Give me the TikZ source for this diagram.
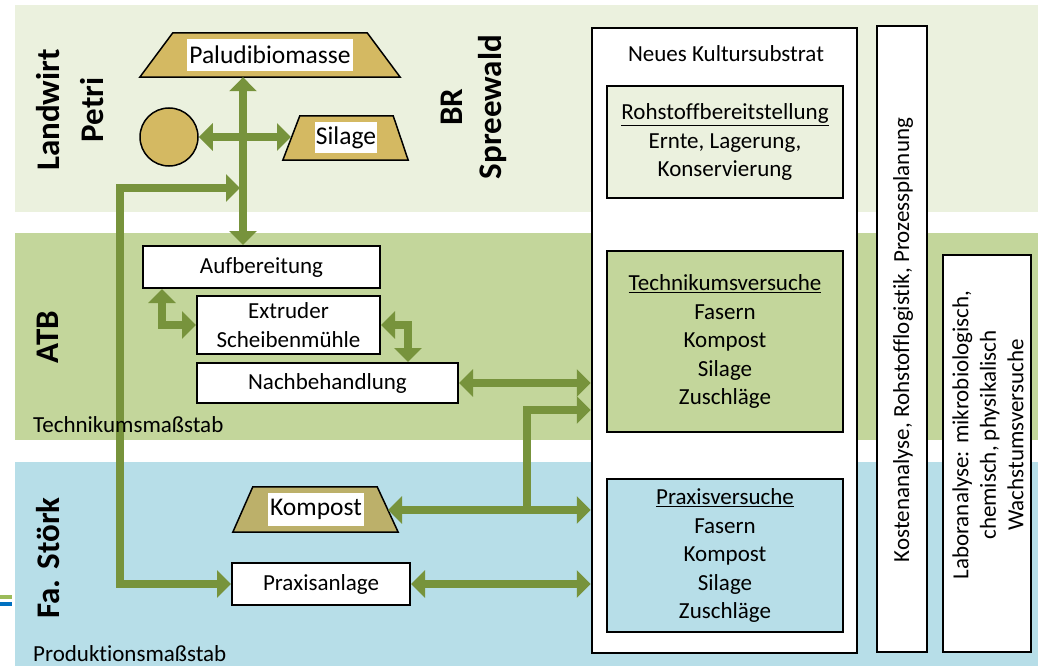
\documentclass[tikz,border=0pt]{standalone}
\usepackage{fontspec}
\setmainfont{Carlito}[Ligatures={NoCommon}]
\usetikzlibrary{arrows.meta}
\definecolor{bandtop}{HTML}{EBF1DE}
\definecolor{bandmid}{HTML}{C3D69B}
\definecolor{bandblue}{HTML}{B7DEE8}
\definecolor{flowgreen}{HTML}{77933C}
\definecolor{gold}{HTML}{D4B962}
\definecolor{khaki}{HTML}{BCB06A}
\definecolor{dashgreen}{HTML}{9BBB59}
\definecolor{dashblue}{HTML}{0070C0}
\begin{document}
\begin{tikzpicture}[x=1pt,y=-1pt,
  every node/.style={font=\fontsize{23}{28.5}\selectfont, text=black},
  >={Triangle[width=27pt,length=14pt]},
  flow/.style={draw=flowgreen, line width=8pt, line join=miter},
  box/.style={draw=black, line width=2pt, fill=white, inner sep=0pt, align=center},
  bigbox/.style={draw=black, line width=2.5pt, inner sep=0pt, align=center},
  trapframe/.style={inner sep=0pt},
  trapline/.style={draw=black, line width=1.5pt, line join=miter},
  tlabel/.style={fill=white, inner sep=0pt, font=\fontsize{25.5}{28}\selectfont},
  sidelbl/.style={font=\fontsize{33}{36}\selectfont\bfseries, rotate=90, inner sep=0pt},
  scalelbl/.style={font=\fontsize{23}{28}\selectfont, anchor=base west, inner sep=0pt}
]
\useasboundingbox (0,0) rectangle (1038,666);
% bands
\fill[bandtop] (15,5) rectangle (1038,212);
\fill[bandmid] (15,233) rectangle (1038,440);
\fill[bandblue] (15,462) rectangle (1038,666);
\fill[dashgreen] (0,594.5) rectangle (12,598.5);
\fill[dashblue] (0,602) rectangle (12,606);

% raw material shapes
\node[trapframe, minimum width=260pt, minimum height=44pt] (palu) at (270,55) {};
\filldraw[trapline, fill=gold] (palu.south west) -- (palu.south east) -- ([xshift=-33pt]palu.north east) -- ([xshift=33pt]palu.north west) -- cycle;
\node[tlabel, minimum width=166pt, minimum height=32pt] (palulbl) at (270,55) {Paludibiomasse};
\node[circle, draw=black, line width=1.5pt, fill=gold, minimum size=58pt, inner sep=0pt] (ball) at (169,137) {};
\node[trapframe, minimum width=125pt, minimum height=44pt] (silage) at (345.5,138) {};
\filldraw[trapline, fill=gold] (silage.south west) -- (silage.south east) -- ([xshift=-15pt]silage.north east) -- ([xshift=17pt]silage.north west) -- cycle;
\node[tlabel, minimum width=62pt, minimum height=31pt] (silagelbl) at (346,137.5) {Silage};
\node[trapframe, minimum width=165pt, minimum height=45pt] (kompost) at (315.5,509.5) {};
\filldraw[trapline, fill=khaki] (kompost.south west) -- (kompost.south east) -- ([xshift=-21pt]kompost.north east) -- ([xshift=20pt]kompost.north west) -- cycle;
\node[tlabel, minimum width=96pt, minimum height=33pt] (kompostlbl) at (316,509.5) {Kompost};

% process boxes
\node[box, minimum width=237pt, minimum height=42pt] (aufb) at (261.5,267) {Aufbereitung};
\node[box, minimum width=183pt, minimum height=58pt] (extr) at (288.5,325) {Extruder\\Scheibenmühle};
\node[box, minimum width=261pt, minimum height=40pt] (nach) at (327.5,383) {Nachbehandlung};
\node[box, minimum width=178pt, minimum height=42pt] (praxis) at (321,584) {Praxisanlage};

% right column
\node[bigbox, fill=white, minimum width=265pt, minimum height=625pt] (neues) at (724.5,340.5) {};
\node (neueslbl) at (726,54) {Neues Kultursubstrat};
\node[bigbox, fill=bandtop, minimum width=236pt, minimum height=112pt] (roh) at (725,142) {\underline{Rohstoffbereitstellung}\\Ernte, Lagerung,\\Konservierung};
\node[bigbox, fill=bandmid, minimum width=236pt, minimum height=181pt] (tech) at (725,341.5) {\underline{Technikumsversuche}\\Fasern\\Kompost\\Silage\\Zuschläge};
\node[bigbox, fill=bandblue, minimum width=236pt, minimum height=153pt] (prax) at (725,555.5) {\underline{Praxisversuche}\\Fasern\\Kompost\\Silage\\Zuschläge};
\node[bigbox, fill=white, minimum width=50pt, minimum height=626pt] (kosten) at (902,339) {};
\node[rotate=90, inner sep=0pt] (kostenlbl) at (903,340) {Kostenanalyse, Rohstofflogistik, Prozessplanung};
\node[bigbox, fill=white, minimum width=88pt, minimum height=397pt] (labor) at (987,453.5) {};
\node[rotate=90, inner sep=0pt, align=center, font=\fontsize{23}{27.5}\selectfont] (laborlbl) at (988,435) {Laboranalyse: mikrobiologisch,\\chemisch, physikalisch\\Wachstumsversuche};

% helper coordinates
\coordinate (spine) at (243,137);
\coordinate (looptop) at (120,188);
\coordinate (a1) at (162,0);
\coordinate (a2) at (408,0);
\coordinate (lvl2) at (527,410);
\coordinate (silin) at (291,137);
\coordinate (kompout) at (388,510);

% connectors
\draw[flow,<->] (spine |- palu.south) -- (spine |- aufb.north);
\draw[flow,<->] (ball.east) -- (silin);
\draw[flow,<->] ([xshift=-3pt]spine |- looptop) -- (looptop) -- (looptop |- praxis.west) -- (praxis.west);
\draw[flow,<->] (aufb.south -| a1) |- (extr.west);
\draw[flow,<->] (extr.east) -| (nach.north -| a2);
\draw[flow,<->] (nach.east) -- (nach.east -| neues.west);
\draw[flow,->] ([yshift=4pt]kompout -| lvl2) -- (lvl2) -- (lvl2 -| neues.west);
\draw[flow,<->] (kompout) -- (kompout -| neues.west);
\draw[flow,<->] (praxis.east) -- (praxis.east -| neues.west);

% band labels (on top)
\node[sidelbl] (landwirt) at (48,110) {Landwirt};
\node[sidelbl] (petri) at (92,110) {Petri};
\node[sidelbl] (br) at (452,107) {BR};
\node[sidelbl] (spreewald) at (493,107) {Spreewald};
\node[sidelbl] (atb) at (48,337) {ATB};
\node[sidelbl] (stoerk) at (48,558) {Fa. Störk};
\node[scalelbl] (tms) at (33,432) {Technikumsmaßstab};
\node[scalelbl] (pms) at (33,661) {Produktionsmaßstab};
\end{tikzpicture}
\end{document}
